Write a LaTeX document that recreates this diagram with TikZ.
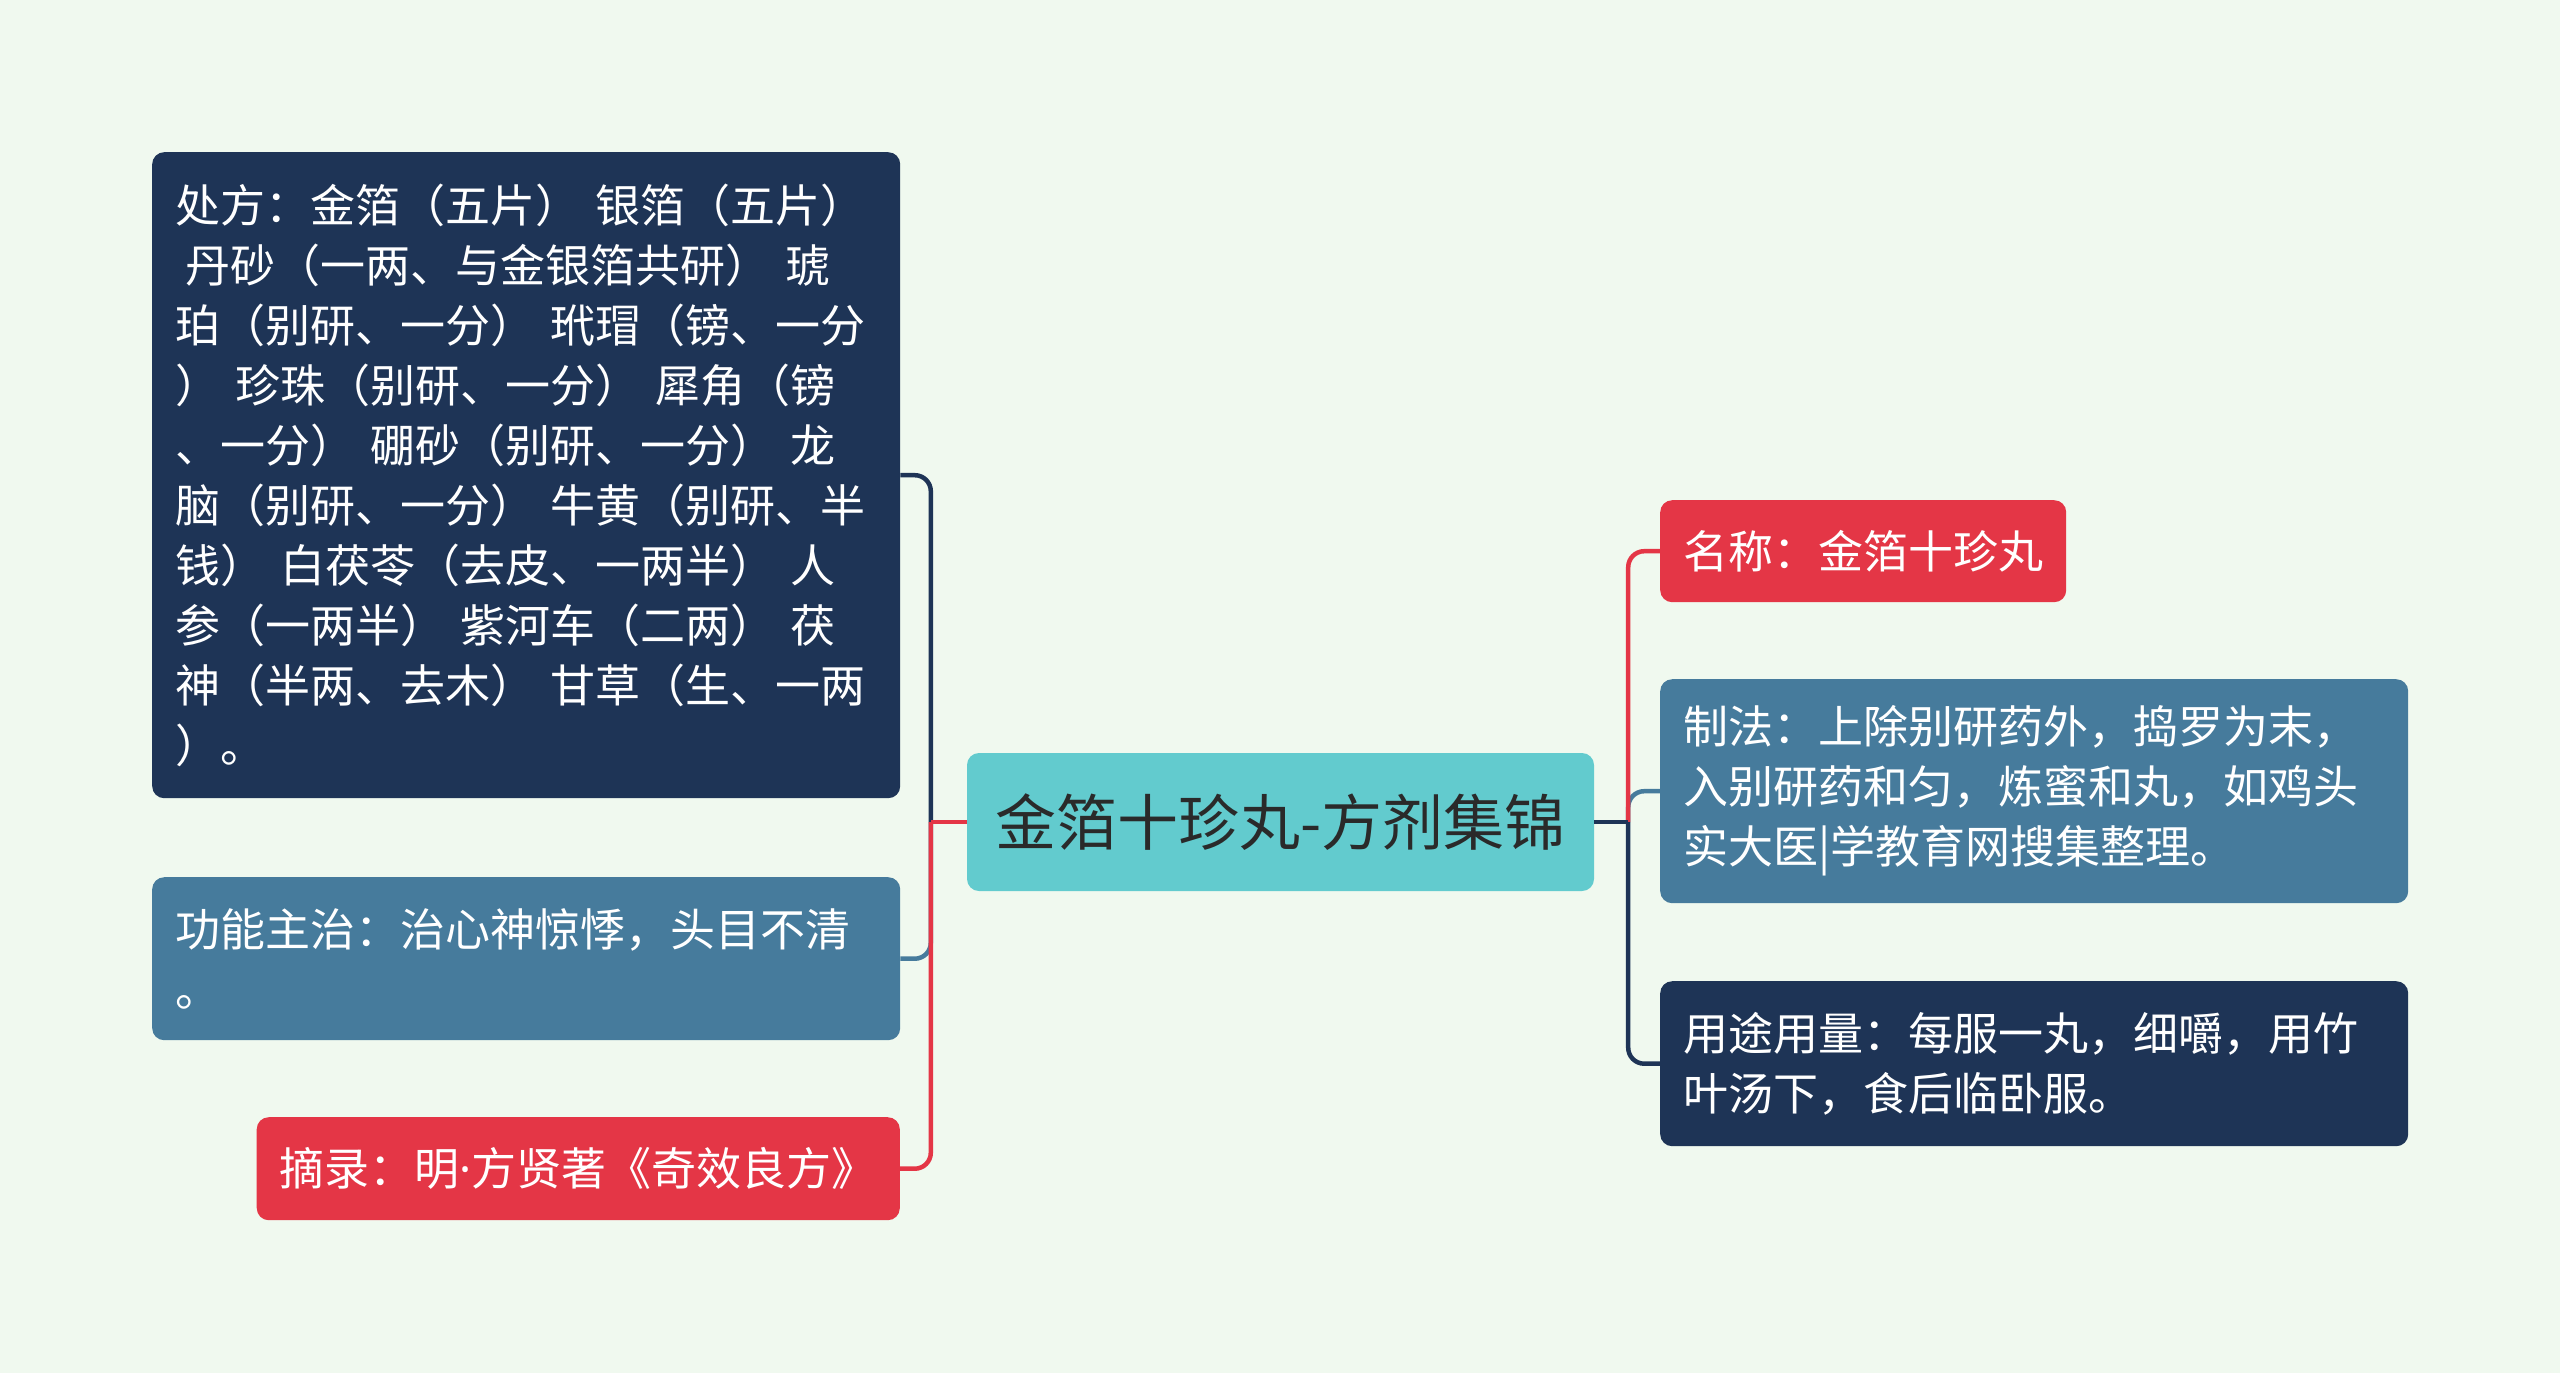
\documentclass[tikz,border=0pt]{standalone}
\usepackage{fontspec}
\setmainfont{Noto Sans CJK SC}
\newfontfamily\latinf{Noto Sans}
\definecolor{bgc}{HTML}{F0F9EF}
\definecolor{navyc}{HTML}{1E3456}
\definecolor{bluec}{HTML}{467B9C}
\definecolor{redc}{HTML}{E43646}
\definecolor{tealc}{HTML}{62CBCE}
\definecolor{darkc}{HTML}{2A2A2A}
\begin{document}
\begin{tikzpicture}[x=1pt,y=-1pt,
  box/.style={rounded corners=12pt, text=white, align=left, inner xsep=23pt, inner ysep=0pt,
    font=\fontsize{45}{60}\selectfont},
  conn/.style={line width=4.5pt, rounded corners=16pt},
  stub/.style={line width=4.5pt}]
\fill[bgc] (0,0) rectangle (2560,1373);
\useasboundingbox (0,0) rectangle (2560,1373);

\node[box, fill=tealc, text=darkc, anchor=center, minimum width=627pt, minimum height=138pt,
  inner xsep=0pt, font=\fontsize{61}{70}\selectfont] (c) at (1280.5,822) {金箔十珍丸-方剂集锦};

\node[box, fill=navyc, anchor=north west, text width=702pt, minimum height=646pt] (l1) at (152,152)
 {处方：金箔（五片）~银箔（五片）\\
  \hspace*{10pt}丹砂（一两、与金银箔共研）~琥\\
  珀（别研、一分）~玳瑁（镑、一分\\
  ）~珍珠（别研、一分）~犀角（镑\\
  、一分）~硼砂（别研、一分）~龙\\
  脑（别研、一分）~牛黄（别研、半\\
  钱）~白茯苓（去皮、一两半）~人\\
  参（一两半）~紫河车（二两）~茯\\
  神（半两、去木）~甘草（生、一两\\
  ）。};

\node[box, fill=bluec, anchor=north west, text width=702pt, minimum height=163pt] (l2) at (152,877)
 {功能主治：治心神惊悸，头目不清\\。};

\node[box, fill=redc, anchor=north east, minimum height=103pt] (l3) at (900,1117)
 {摘录：明{\latinf ·}方贤著《奇效良方》};

\node[box, fill=redc, anchor=north west, minimum height=102pt] (r1) at (1660,500)
 {名称：金箔十珍丸};

\node[box, fill=bluec, anchor=north west, text width=702pt, minimum height=224pt] (r2) at (1660,679)
 {制法：上除别研药外，捣罗为末，\\入别研药和匀，炼蜜和丸，如鸡头\\实大医|学教育网搜集整理。};

\node[box, fill=navyc, anchor=north west, text width=702pt, minimum height=165pt] (r3) at (1660,981)
 {用途用量：每服一丸，细嚼，用竹\\叶汤下，食后临卧服。};

\coordinate (tl) at ([xshift=-36pt]c.west);
\coordinate (tr) at ([xshift=34pt]c.east);

\draw[conn, navyc] (tl) |- (l1.east);
\draw[conn, bluec] (tl) |- (l2.east);
\draw[conn, redc] (tl) |- (l3.east);
\draw[stub, redc] (c.west) -- (tl);

\draw[conn, bluec] (tr) |- (r2.west);
\draw[conn, redc] (tr) |- (r1.west);
\draw[conn, navyc] (tr) |- (r3.west);
\draw[stub, navyc] (c.east) -- (tr);
\end{tikzpicture}
\end{document}
